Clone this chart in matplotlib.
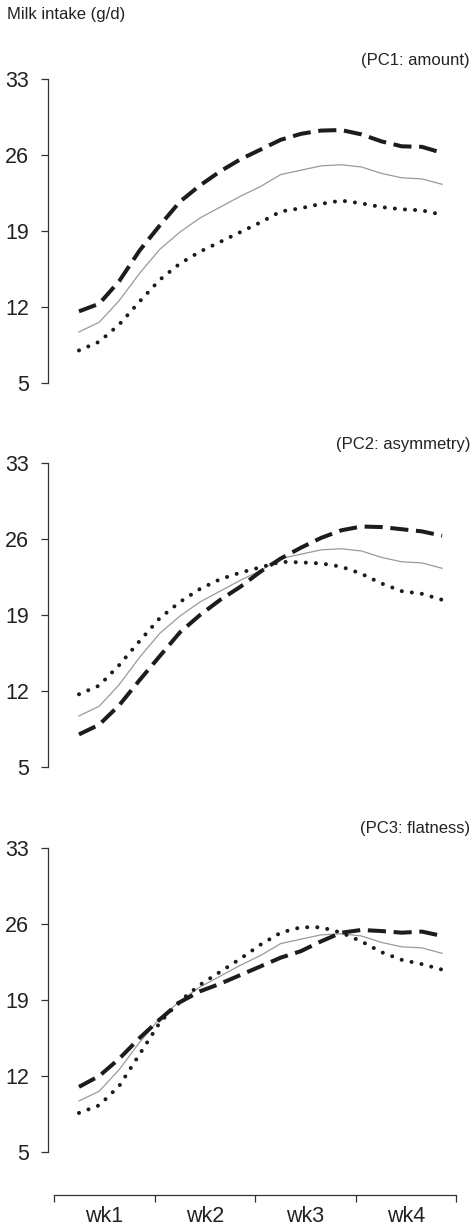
import matplotlib
matplotlib.use("Agg")
import matplotlib.pyplot as plt

# ---------------- data ----------------
days = [1.74, 3.15, 4.55, 5.96, 7.36, 8.77, 10.17, 11.58, 12.98, 14.39,
        15.79, 17.20, 18.60, 20.01, 21.41, 22.82, 24.22, 25.63, 27.03]

mean_curve = [9.7, 10.6, 12.6, 15.1, 17.3, 18.9, 20.2, 21.2, 22.2, 23.1,
              24.2, 24.6, 25.0, 25.1, 24.9, 24.3, 23.9, 23.8, 23.3]

pc1_high = [11.6, 12.3, 14.4, 17.2, 19.5, 21.7, 23.2, 24.5, 25.6, 26.5,
            27.4, 27.95, 28.25, 28.3, 27.9, 27.25, 26.8, 26.75, 26.2]
pc1_low = [8.0, 8.8, 10.4, 12.5, 14.5, 16.0, 17.1, 18.0, 18.9, 19.8,
           20.8, 21.1, 21.5, 21.8, 21.55, 21.2, 21.0, 20.9, 20.5]

pc2_high = [8.0, 8.9, 10.7, 13.0, 15.2, 17.4, 19.0, 20.4, 21.6, 23.0,
            24.2, 25.2, 26.1, 26.8, 27.15, 27.1, 26.9, 26.7, 26.3]
pc2_low = [11.7, 12.5, 14.4, 16.6, 18.7, 20.2, 21.4, 22.3, 22.9, 23.4,
           23.9, 23.85, 23.75, 23.45, 22.8, 21.9, 21.2, 20.95, 20.4]

pc3_high = [11.0, 12.0, 13.6, 15.5, 17.2, 18.8, 19.8, 20.5, 21.3, 22.1,
            22.9, 23.5, 24.4, 25.2, 25.45, 25.35, 25.2, 25.3, 24.9]
pc3_low = [8.6, 9.3, 11.1, 14.0, 16.9, 18.9, 20.4, 21.6, 22.8, 24.1,
           25.2, 25.7, 25.7, 25.2, 24.4, 23.4, 22.7, 22.3, 21.8]

panel_titles = ["(PC1: amount)", "(PC2: asymmetry)", "(PC3: flatness)"]
y_ticks = [5, 12, 19, 26, 33]
week_labels = ["wk1", "wk2", "wk3", "wk4"]
ylabel_text = "Milk intake (g/d)"

# ---------------- figure ----------------
W, H = 473, 1226
fig = plt.figure(figsize=(W / 100, H / 100), dpi=100)
plt.rcParams["font.family"] = ["Liberation Sans", "DejaVu Sans"]

narrow = ["Liberation Sans Narrow", "Liberation Sans", "DejaVu Sans"]

left_px, right_px = 54, 456
panel_tops = [79, 463, 848]
panel_h = 304
title_y = [60, 445, 828]

panels = [(pc1_high, pc1_low), (pc2_high, pc2_low), (pc3_high, pc3_low)]

ink = "#1c1c1c"
for k, (top, (hi, lo)) in enumerate(zip(panel_tops, panels)):
    bottom = top + panel_h
    ax = fig.add_axes([left_px / W, 1 - bottom / H,
                       (right_px - left_px) / W, panel_h / H])
    ax.set_xlim(0, 28)
    ax.set_ylim(5, 33)
    ax.plot(days, mean_curve, color="#9a9a9a", lw=0.9, clip_on=False,
            solid_joinstyle="round")
    ax.plot(days, lo, color=ink, lw=2.9, linestyle=(0, (0.01, 2.5)),
            dash_capstyle="round", clip_on=False)
    ax.plot(days, hi, color=ink, lw=2.9, linestyle=(0, (4.5, 1.9)),
            dash_capstyle="butt", clip_on=False)
    for s in ["top", "right", "bottom"]:
        ax.spines[s].set_visible(False)
    ax.spines["left"].set_position(("outward", 4))
    ax.spines["left"].set_color("#333333")
    ax.spines["left"].set_linewidth(0.9)
    ax.spines["left"].set_bounds(5, 33)
    ax.set_xticks([])
    ax.set_yticks(y_ticks)
    ax.set_yticklabels([str(t) for t in y_ticks])
    ax.tick_params(axis="y", length=5, width=0.9, color="#333333",
                   labelsize=15.5, pad=9, labelcolor="#222222")
    ax.patch.set_visible(False)
    fig.text(470 / W, 1 - title_y[k] / H, panel_titles[k], ha="right",
             va="center", fontsize=12, family=narrow, color="#222222")

fig.text(7 / W, 1 - 15 / H, ylabel_text, ha="left", va="center",
         fontsize=12, family=narrow, color="#222222")

# bottom week axis
axx = fig.add_axes([left_px / W, 1 - 1195 / H, (right_px - left_px) / W, 0.0005])
axx.set_xlim(0, 28)
axx.set_ylim(0, 1)
for s in ["top", "right", "left"]:
    axx.spines[s].set_visible(False)
axx.spines["bottom"].set_color("#333333")
axx.spines["bottom"].set_linewidth(0.9)
axx.set_yticks([])
axx.set_xticks([0, 7, 14, 21, 28])
axx.set_xticklabels([])
axx.set_xticks([3.5, 10.5, 17.5, 24.5], minor=True)
axx.set_xticklabels(week_labels, minor=True)
axx.tick_params(axis="x", which="major", length=5, width=0.9, color="#333333")
axx.tick_params(axis="x", which="minor", length=0, labelsize=15.5, pad=8,
                labelcolor="#222222")
axx.patch.set_visible(False)

fig.savefig("out.png", dpi=100)
